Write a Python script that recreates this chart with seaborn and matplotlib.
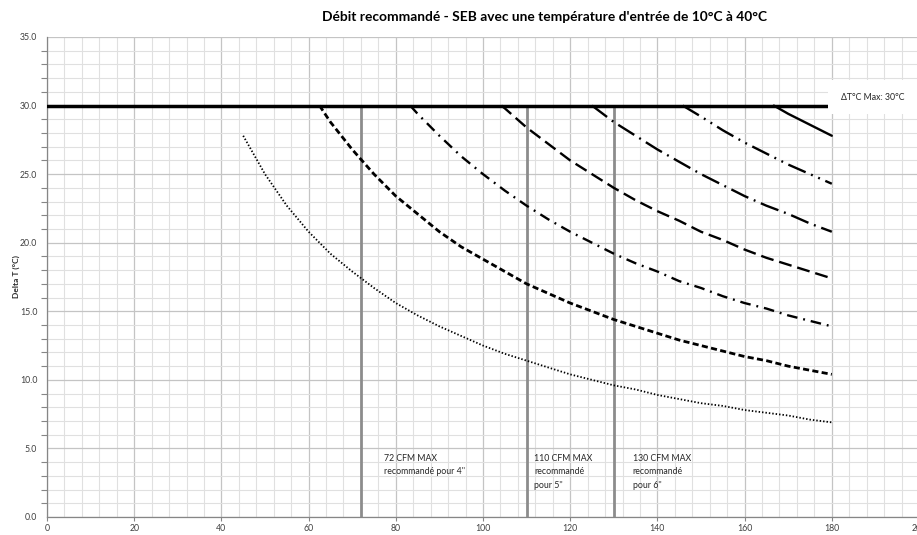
import matplotlib
matplotlib.use("Agg")
import matplotlib.pyplot as plt
from matplotlib.ticker import MultipleLocator, FormatStrFormatter
import pandas as pd
import seaborn as sns

# CFM (x) and Delta T (y) values, one curve per series
cfm_a = [45, 50, 55, 60, 65, 70, 75, 80, 85, 90, 95, 100, 105, 110, 115, 120,
         125, 130, 135, 140, 145, 150, 155, 160, 165, 170, 175, 180]
dt_a = [27.8, 25.0, 22.7, 20.8, 19.2, 17.9, 16.7, 15.6, 14.7, 13.9, 13.2, 12.5, 11.9, 11.4,
        10.9, 10.4, 10.0, 9.6, 9.3, 8.9, 8.6, 8.3, 8.1, 7.8, 7.6, 7.4, 7.1, 6.9]

cfm_b = [62.5, 65, 70, 75, 80, 85, 90, 95, 100, 105, 110, 115, 120, 125, 130,
         135, 140, 145, 150, 155, 160, 165, 170, 175, 180]
dt_b = [30.0, 28.8, 26.8, 25.0, 23.4, 22.1, 20.8, 19.7, 18.8, 17.9, 17.0, 16.3, 15.6, 15.0,
        14.4, 13.9, 13.4, 12.9, 12.5, 12.1, 11.7, 11.4, 11.0, 10.7, 10.4]

cfm_c = [83.3, 85, 90, 95, 100, 105, 110, 115, 120, 125, 130, 135, 140, 145, 150,
         155, 160, 165, 170, 175, 180]
dt_c = [30.0, 29.4, 27.8, 26.3, 25.0, 23.8, 22.7, 21.7, 20.8, 20.0, 19.2, 18.5, 17.9, 17.2,
        16.7, 16.1, 15.6, 15.2, 14.7, 14.3, 13.9]

cfm_d = [104.2, 105, 110, 115, 120, 125, 130, 135, 140, 145, 150, 155, 160, 165, 170, 175, 180]
dt_d = [30.0, 29.8, 28.4, 27.2, 26.0, 25.0, 24.0, 23.1, 22.3, 21.6, 20.8, 20.2, 19.5, 18.9,
        18.4, 17.9, 17.4]

cfm_e = [125, 130, 135, 140, 145, 150, 155, 160, 165, 170, 175, 180]
dt_e = [30.0, 28.8, 27.8, 26.8, 25.9, 25.0, 24.2, 23.4, 22.7, 22.1, 21.4, 20.8]

cfm_f = [145.8, 150, 155, 160, 165, 170, 175, 180]
dt_f = [30.0, 29.2, 28.2, 27.3, 26.5, 25.7, 25.0, 24.3]

cfm_g = [166.7, 170, 175, 180]
dt_g = [30.0, 29.4, 28.6, 27.8]

dt_max = 30
max_cfm = [72, 110, 130]
max_labels = ["72 CFM MAX\nrecommandé pour 4''",
              "110 CFM MAX\nrecommandé\npour 5''",
              "130 CFM MAX\nrecommandé\npour 6''"]
label_x = [77.3, 111.8, 134.3]

sns.set_theme(style="white")
plt.rcParams["font.family"] = ["Lato", "DejaVu Sans"]

fig = plt.figure(figsize=(9.17, 5.35), dpi=100)
ax = fig.add_axes([47 / 917, 18 / 535, 872 / 917, 480 / 535])

series = [
    (cfm_a, dt_a, (0, (0.8, 1.1)), 1.3),
    (cfm_b, dt_b, (0, (2.2, 1.2)), 2.0),
    (cfm_c, dt_c, (0, (4.5, 2.5, 0.8, 2.5)), 1.7),
    (cfm_d, dt_d, (0, (5.5, 2.5)), 1.7),
    (cfm_e, dt_e, (0, (8, 2.5, 0.8, 2.5)), 1.7),
    (cfm_f, dt_f, (0, (8, 2.5, 0.8, 2.5, 0.8, 2.5)), 1.7),
    (cfm_g, dt_g, "-", 1.7),
]
for xs, ys, ls, lw in series:
    df = pd.DataFrame({"cfm": xs, "dt": ys})
    sns.lineplot(data=df, x="cfm", y="dt", ax=ax, color="black",
                 linestyle=ls, linewidth=lw, zorder=4)

# limits
ax.plot([0, 180], [dt_max, dt_max], color="black", linewidth=2.5, zorder=5)
for x in max_cfm:
    ax.plot([x, x], [0, dt_max], color="#8c8c8c", linewidth=2, zorder=3)

for x, lab in zip(label_x, max_labels):
    ax.text(x, 4.6, lab, fontsize=6.3, va="top", ha="left", color="#262626",
            linespacing=1.65, zorder=6)

ax.text(182, dt_max + 0.6, "ΔT°C Max: 30°C", fontsize=6.3, color="#262626",
        va="center", ha="left", zorder=7,
        bbox=dict(facecolor="white", edgecolor="none", pad=9))

ax.set_xlim(0, 200)
ax.set_ylim(0, 35)
ax.xaxis.set_major_locator(MultipleLocator(20))
ax.xaxis.set_minor_locator(MultipleLocator(4))
ax.yaxis.set_major_locator(MultipleLocator(5))
ax.yaxis.set_minor_locator(MultipleLocator(1))
ax.yaxis.set_major_formatter(FormatStrFormatter("%.1f"))
ax.grid(which="major", color="#c4c4c4", linewidth=0.9, zorder=0)
ax.grid(which="minor", color="#e0e0e0", linewidth=0.8, zorder=0)
ax.set_axisbelow(True)

ax.tick_params(axis="both", which="major", labelsize=6.3, labelcolor="#404040",
               length=4, color="#868686", width=0.8, pad=3)
ax.tick_params(axis="y", which="minor", length=4, color="#868686", width=0.8, left=True)
ax.tick_params(axis="x", which="major", bottom=True, length=3, pad=2)
ax.tick_params(axis="x", which="minor", bottom=False)

for side in ["top", "right"]:
    ax.spines[side].set_visible(False)
for side in ["left", "bottom"]:
    ax.spines[side].set_color("#868686")
    ax.spines[side].set_linewidth(0.9)

ax.set_xlabel("")
ax.set_ylabel("Delta T (°C)", fontsize=6, fontweight="bold", color="#262626")
ax.yaxis.set_label_coords(-0.031, 0.5)

fig.text(0.594, 0.968, "Débit recommandé - SEB avec une température d'entrée de 10°C à 40°C",
         ha="center", va="center", fontsize=9.9, fontweight="bold", color="black")

fig.savefig("out.png", dpi=100)
